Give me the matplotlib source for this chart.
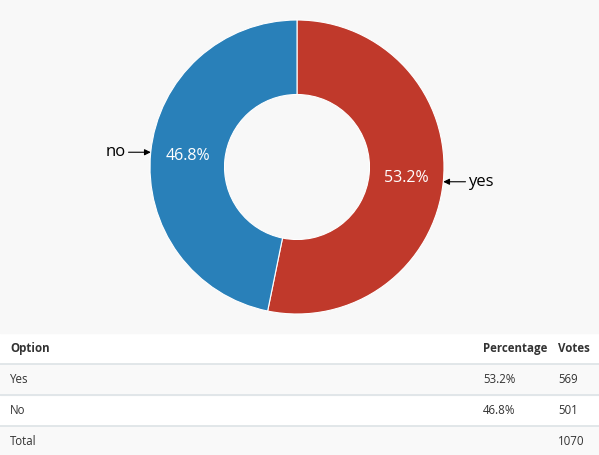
import matplotlib
matplotlib.use('Agg')
import matplotlib.pyplot as plt
import numpy as np

options = ['Yes', 'No']
labels = ['yes', 'no']
percentages = [53.2, 46.8]
votes = [569, 501]
total_votes = 1070
colors = ['#c0392b', '#2980b9']
headers = ['Option', 'Percentage', 'Votes']

W, H = 599, 455
plt.rcParams['font.family'] = ['Open Sans', 'DejaVu Sans']

fig = plt.figure(figsize=(W / 100, H / 100), dpi=100)
fig.patch.set_facecolor('white')

# background layer in pixel coordinates
bg = fig.add_axes([0, 0, 1, 1])
bg.set_xlim(0, W)
bg.set_ylim(H, 0)
bg.axis('off')
bg.add_patch(plt.Rectangle((0, 0), W, 333, color='#f8f8f8', zorder=0))

# table
row_top = 333
row_h = 31
col_x = [10, 483, 558]
rows = [[o, f'{p:.1f}%', str(v)] for o, p, v in zip(options, percentages, votes)]
rows.append(['Total', '', str(total_votes)])

for j, h in enumerate(headers):
    bg.text(col_x[j], row_top + row_h / 2, h, fontsize=8.3, fontweight='bold',
            color='#333333', va='center', ha='left')
for i, row in enumerate(rows):
    y0 = row_top + row_h * (i + 1)
    if i % 2 == 0:
        bg.add_patch(plt.Rectangle((0, y0), W, row_h, color='#f9f9f9', zorder=0))
    bg.plot([0, W], [y0, y0], color='#dde3e6', lw=1.2, zorder=1)
    for j, cell in enumerate(row):
        bg.text(col_x[j], y0 + row_h / 2, cell, fontsize=8.3, color='#333333',
                va='center', ha='left')

# donut
cx, cy, R = 297, 167, 147
ax = fig.add_axes([(cx - 160) / W, (H - cy - 160) / H, 320 / W, 320 / H])
ax.patch.set_alpha(0)
wedges, _, autotexts = ax.pie(percentages, colors=colors, startangle=90, counterclock=False,
                              radius=R, autopct='%1.1f%%', pctdistance=(R - 37) / R,
                              wedgeprops=dict(width=74.5, edgecolor='white', linewidth=0.8),
                              textprops=dict(color='white', fontsize=11.5))
ax.set_xlim(-160, 160)
ax.set_ylim(-160, 160)
ax.set_aspect('equal')

for w, lab in zip(wedges, labels):
    ang = np.deg2rad((w.theta1 + w.theta2) / 2)
    x, y = R * np.cos(ang), R * np.sin(ang)
    sign = 1 if x > 0 else -1
    ax.annotate(lab, xy=(x, y), xytext=(x + sign * 25, y),
                fontsize=12, color='black', va='center',
                ha='left' if sign > 0 else 'right',
                arrowprops=dict(arrowstyle='-|>', color='black', lw=0.8,
                                mutation_scale=9, shrinkA=0, shrinkB=0))

fig.savefig('out.png', dpi=100)
